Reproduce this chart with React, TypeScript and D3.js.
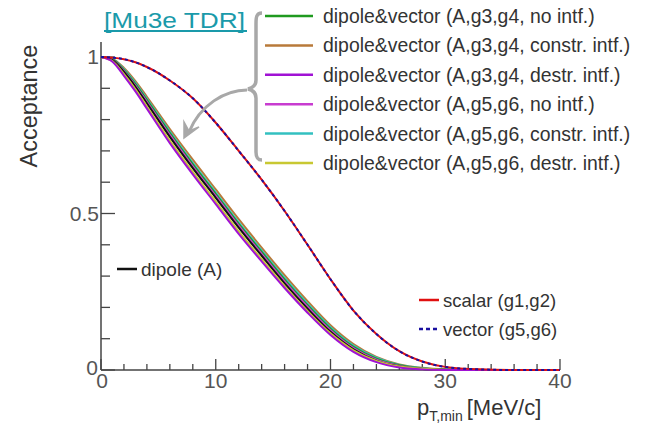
import React from "react";
import * as d3 from "d3";

const xs = [0, 1, 2, 3, 4, 6, 8, 10, 12, 14, 16, 18, 20, 22, 24, 26, 28, 30, 33, 36, 40];

const dipole = [1, 0.99, 0.952, 0.905, 0.852, 0.745, 0.645, 0.55, 0.455, 0.365, 0.277, 0.196, 0.122, 0.066, 0.03, 0.011, 0.003, 0.001, 0, 0, 0];
const g34Destr = [1, 0.985, 0.94, 0.89, 0.835, 0.725, 0.625, 0.53, 0.435, 0.347, 0.262, 0.183, 0.112, 0.058, 0.025, 0.008, 0.002, 0, 0, 0, 0];
const g56Destr = [1, 0.987, 0.945, 0.897, 0.842, 0.733, 0.633, 0.538, 0.443, 0.354, 0.268, 0.188, 0.117, 0.063, 0.029, 0.011, 0.004, 0.001, 0, 0, 0];
const g56No = [1, 0.991, 0.955, 0.909, 0.857, 0.751, 0.651, 0.556, 0.461, 0.371, 0.283, 0.202, 0.127, 0.07, 0.033, 0.013, 0.004, 0.001, 0, 0, 0];
const g34No = [1, 0.992, 0.958, 0.913, 0.862, 0.757, 0.657, 0.562, 0.467, 0.377, 0.289, 0.207, 0.132, 0.074, 0.036, 0.015, 0.005, 0.001, 0, 0, 0];
const g56Constr = [1, 0.993, 0.961, 0.917, 0.866, 0.762, 0.662, 0.567, 0.472, 0.382, 0.294, 0.212, 0.137, 0.078, 0.039, 0.016, 0.006, 0.002, 0, 0, 0];
const g34Constr = [1, 0.994, 0.965, 0.923, 0.873, 0.77, 0.672, 0.577, 0.482, 0.391, 0.303, 0.22, 0.143, 0.083, 0.042, 0.018, 0.007, 0.002, 0, 0, 0];
const scalarVector = [1, 0.998, 0.993, 0.983, 0.968, 0.925, 0.868, 0.79, 0.7, 0.608, 0.508, 0.4, 0.29, 0.19, 0.115, 0.06, 0.027, 0.01, 0.002, 0, 0];

const legendLabels = [
  "dipole&vector (A,g3,g4, no intf.)",
  "dipole&vector (A,g3,g4, constr. intf.)",
  "dipole&vector (A,g3,g4, destr. intf.)",
  "dipole&vector (A,g5,g6, no intf.)",
  "dipole&vector (A,g5,g6, constr. intf.)",
  "dipole&vector (A,g5,g6, destr. intf.)",
];
const legendColors = ["#1f9a1f", "#b87a3a", "#a012d4", "#c83cd0", "#33c0c0", "#c8c832"];

const xTickMajor = [0, 10, 20, 30, 40];
const xTickMinor = d3.range(0, 41, 2);
const yTickMinor = d3.range(0, 1.01, 0.1);
const yTickLabels = ["0", "0.5", "1"];

const FONT = "'Liberation Sans', Arial, sans-serif";

export default function App() {
  const x = d3.scaleLinear().domain([0, 40]).range([101, 560]);
  const y = d3.scaleLinear().domain([0, 1]).range([370, 57]);
  const line = (vals: number[]) =>
    d3
      .line<number>()
      .x((_, i) => x(xs[i]))
      .y((v) => y(v))
      .curve(d3.curveMonotoneX)(vals) as string;

  const bundle: [number[], string][] = [
    [g34Constr, legendColors[1]],
    [g56Constr, legendColors[4]],
    [g34No, legendColors[0]],
    [g56No, legendColors[3]],
    [dipole, "#111"],
    [g56Destr, legendColors[5]],
    [g34Destr, legendColors[2]],
  ];

  const axisColor = "#444";
  const labelColor = "#555";

  return (
    <svg width={650} height={423} style={{ position: "absolute", left: 0, top: 0, background: "#fff" }}>
      {/* axes */}
      <line x1={101} x2={101} y1={42} y2={370} stroke={axisColor} strokeWidth={1.5} />
      <line x1={101} x2={560} y1={370} y2={370} stroke={axisColor} strokeWidth={1.5} />
      {yTickMinor.map((t, i) => (
        <line key={"yt" + i} x1={101} x2={101 + (i % 5 === 0 ? 14 : 9)} y1={y(t)} y2={y(t)} stroke={axisColor} strokeWidth={1.3} />
      ))}
      {xTickMinor.map((t, i) => (
        <line key={"xt" + i} x1={x(t)} x2={x(t)} y1={370} y2={370 - (t % 10 === 0 ? 11 : 6)} stroke={axisColor} strokeWidth={1.3} />
      ))}
      {yTickLabels.map((l) => (
        <text key={"yl" + l} x={l === "0" ? 98 : 99} y={y(+l) + (l === "0" ? 5 : 7)} textAnchor="end" fontFamily={FONT} fontSize={21} fill={labelColor}>
          {l}
        </text>
      ))}
      {xTickMajor.map((t) => (
        <text key={"xl" + t} x={x(t) + (t === 0 ? 1 : 0)} y={388} textAnchor="middle" fontFamily={FONT} fontSize={21} fill={labelColor}>
          {t}
        </text>
      ))}
      <text x={0} y={0} transform="translate(37,106) rotate(-90)" textAnchor="middle" fontFamily={FONT} fontSize={23.5} fill="#333">
        Acceptance
      </text>
      <text x={417} y={415} fontFamily={FONT} fontSize={22} fill="#333">
        p
        <tspan dy={6} fontSize={14}>T,min</tspan>
        <tspan dy={-6} dx={4}>[MeV/c]</tspan>
      </text>

      {/* curves */}
      {bundle.map(([vals, c], i) => (
        <path key={"b" + i} d={line(vals)} fill="none" stroke={c} strokeWidth={2} />
      ))}
      <path d={line(scalarVector)} fill="none" stroke="#e01010" strokeWidth={2} />
      <path d={line(scalarVector)} fill="none" stroke="#1a10a0" strokeWidth={2} strokeDasharray="3,3" />

      {/* top legend */}
      <text x={104} y={28} fontFamily={FONT} fontSize={22} fill="#1a9aaa" textLength={141} lengthAdjust="spacingAndGlyphs">
        [Mu3e TDR]
      </text>
      <line x1={104} x2={247} y1={31} y2={31} stroke="#1a9aaa" strokeWidth={2} />
      {legendLabels.map((l, i) => {
        const yy = 16 + i * 29.4;
        return (
          <g key={"lg" + i}>
            <line x1={265} x2={313} y1={yy} y2={yy} stroke={legendColors[i]} strokeWidth={2.5} />
            <text x={323} y={yy + 7} fontFamily={FONT} fontSize={19.4} fill="#333">
              {l}
            </text>
          </g>
        );
      })}
      {/* brace */}
      <path
        d="M262,13 C256,13 256,18 256,24 L256,80 C256,86 252,88 248,89 C252,90 256,92 256,98 L256,152 C256,158 258,160 262,160"
        fill="none"
        stroke="#a8a8a8"
        strokeWidth={3.5}
      />
      {/* arrow */}
      <path d="M247,90 C225,90 200,105 189,132" fill="none" stroke="#a8a8a8" strokeWidth={3} />
      <path d="M184,138 L184,122 L189,131 L199,127 Z" fill="#a8a8a8" stroke="#a8a8a8" strokeWidth={1.5} />

      {/* dipole legend */}
      <line x1={117} x2={137} y1={269} y2={269} stroke="#111" strokeWidth={2.5} />
      <text x={141} y={276} fontFamily={FONT} fontSize={19} fill="#333">
        dipole (A)
      </text>
      {/* scalar/vector legend */}
      <line x1={419} x2={439} y1={300} y2={300} stroke="#e01010" strokeWidth={2.5} />
      <text x={443} y={307} fontFamily={FONT} fontSize={18.5} fill="#333">
        scalar (g1,g2)
      </text>
      <line x1={419} x2={439} y1={329} y2={329} stroke="#1a10a0" strokeWidth={2.5} strokeDasharray="4,3" />
      <text x={443} y={336} fontFamily={FONT} fontSize={18.5} fill="#333">
        vector (g5,g6)
      </text>
    </svg>
  );
}
